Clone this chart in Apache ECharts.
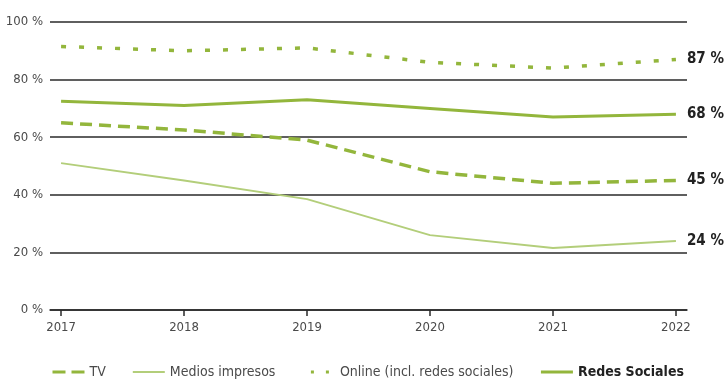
<!DOCTYPE html>
<html>
<head>
<meta charset="utf-8">
<script src="https://cdn.jsdelivr.net/npm/echarts@6/dist/echarts.min.js"></script>
<style>
  html, body { margin: 0; padding: 0; background: #fff; }
  #chart { width: 724px; height: 388px; }
</style>
</head>
<body>
<div id="chart"></div>
<script>
// Years on the horizontal axis
const years = [2017, 2018, 2019, 2020, 2021, 2022];

// Share of respondents using each source (%)
const tv = [65, 62.5, 59, 48, 44, 45];
const mediosImpresos = [51, 45, 38.5, 26, 21.5, 24];
const online = [91.5, 90, 91, 86, 84, 87];
const redesSociales = [72.5, 71, 73, 70, 67, 68];

// Y-axis ticks
const yTicks = [0, 20, 40, 60, 80, 100];

const FONT = "'DejaVu Sans Condensed', 'DejaVu Sans', sans-serif";
const GREEN = '#93b63c';
const LIGHT_GREEN = '#b3ce7a';
const TV_DASH = [12, 7];
const ONLINE_DOTS = [5, 13];

const pairs = vals => years.map((y, i) => [y, vals[i]]);

const endLabel = {
  show: true,
  distance: 11,
  formatter: p => p.value[1] + ' %',
  fontFamily: FONT,
  fontSize: 15,
  fontWeight: 'bold',
  color: '#222'
};

const chart = echarts.init(document.getElementById('chart'));
chart.setOption({
  animation: false,
  textStyle: { fontFamily: FONT },
  grid: { left: 50, right: 37, top: 22, bottom: 78 },
  xAxis: {
    type: 'value',
    min: years[0] - 0.09,
    max: years[years.length - 1] + 0.09,
    axisLine: { show: true, onZero: false, lineStyle: { color: '#2a2a2a', width: 1.5 } },
    axisTick: { show: true, customValues: years, length: 6, lineStyle: { color: '#2a2a2a', width: 1.5 } },
    axisLabel: {
      customValues: years,
      formatter: v => String(v),
      color: '#4a4a4a',
      fontSize: 13,
      fontFamily: FONT,
      margin: 11
    },
    splitLine: { show: false }
  },
  yAxis: {
    type: 'value',
    min: yTicks[0],
    max: yTicks[yTicks.length - 1],
    interval: 20,
    axisLine: { show: false },
    axisTick: { show: false },
    axisLabel: {
      formatter: v => v + ' %',
      color: '#4a4a4a',
      fontSize: 13,
      fontFamily: FONT,
      margin: 7
    },
    splitLine: { show: true, lineStyle: { color: '#2a2a2a', width: 1.5 } }
  },
  legend: {
    bottom: 4,
    left: 46,
    itemWidth: 32,
    itemHeight: 3,
    itemGap: 26,
    itemStyle: { opacity: 0 },
    textStyle: { color: '#4a4a4a', fontSize: 14, fontFamily: FONT },
    data: [
      { name: 'TV', lineStyle: { type: [13, 6], width: 3 } },
      { name: 'Medios impresos', lineStyle: { width: 2 } },
      { name: 'Online (incl. redes sociales)', lineStyle: { type: [3, 12], dashOffset: -8, width: 3 } },
      { name: 'Redes Sociales', lineStyle: { width: 3 }, textStyle: { fontWeight: 'bold', color: '#222' } }
    ]
  },
  series: [
    {
      name: 'TV', type: 'line', data: pairs(tv), showSymbol: false, symbol: 'none',
      lineStyle: { color: GREEN, width: 3.5, type: TV_DASH },
      itemStyle: { color: GREEN },
      endLabel
    },
    {
      name: 'Medios impresos', type: 'line', data: pairs(mediosImpresos), showSymbol: false, symbol: 'none',
      lineStyle: { color: LIGHT_GREEN, width: 2 },
      itemStyle: { color: LIGHT_GREEN },
      endLabel
    },
    {
      name: 'Online (incl. redes sociales)', type: 'line', data: pairs(online), showSymbol: false, symbol: 'none',
      lineStyle: { color: GREEN, width: 3.5, type: ONLINE_DOTS },
      itemStyle: { color: GREEN },
      endLabel
    },
    {
      name: 'Redes Sociales', type: 'line', data: pairs(redesSociales), showSymbol: false, symbol: 'none',
      lineStyle: { color: GREEN, width: 3 },
      itemStyle: { color: GREEN },
      endLabel
    }
  ]
});
</script>
</body>
</html>
